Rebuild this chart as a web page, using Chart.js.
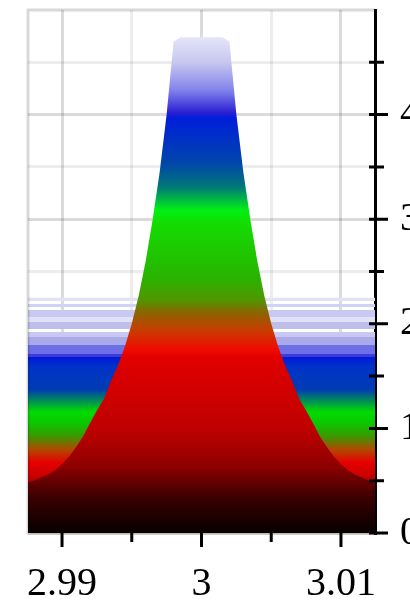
<!DOCTYPE html>
<html>
<head>
<meta charset="utf-8">
<script src="https://cdn.jsdelivr.net/npm/chart.js@4"></script>
<style>
  html, body { margin: 0; padding: 0; background: #fff; }
  #wrap { width: 410px; height: 600px; position: relative; }
</style>
</head>
<body>
<div id="wrap"><canvas id="chart"></canvas></div>
<script>
// x positions of the samples
const xValues = [
  2.9875, 2.988, 2.9885, 2.989, 2.9895, 2.990, 2.9905, 2.991, 2.9915, 2.992,
  2.9925, 2.993, 2.9935, 2.994, 2.9945, 2.995, 2.9955, 2.996, 2.9965, 2.997,
  2.9975, 2.998, 2.9985, 2.999, 2.9995, 3.000, 3.0005, 3.001, 3.0015, 3.002,
  3.0025, 3.003, 3.0035, 3.004, 3.0045, 3.005, 3.0055, 3.006, 3.0065, 3.007,
  3.0075, 3.008, 3.0085, 3.009, 3.0095, 3.010, 3.0105, 3.011, 3.0115, 3.012,
  3.0125
];

// peak
const peakValues = [
  0.48, 0.50, 0.53, 0.56, 0.60, 0.66, 0.73, 0.82, 0.92, 1.05,
  1.17, 1.28, 1.45, 1.60, 1.78, 2.00, 2.27, 2.60, 3.00, 3.45,
  4.00, 4.70, 4.74, 4.74, 4.74, 4.74, 4.74, 4.74, 4.74, 4.70,
  4.00, 3.45, 3.00, 2.60, 2.27, 2.00, 1.78, 1.60, 1.45, 1.28,
  1.17, 1.05, 0.92, 0.82, 0.73, 0.66, 0.60, 0.56, 0.53, 0.50,
  0.48
];

// flat background band
const baseValues = xValues.map(() => 2.25);

const xTicks = [2.99, 2.995, 3, 3.005, 3.01];
const xLabels = [2.99, 3, 3.01];
const yTicks = [0, 0.5, 1, 1.5, 2, 2.5, 3, 3.5, 4, 4.5];
const yLabels = [0, 1, 2, 3, 4];

// colour stops [fraction of height, colour]
const peakStops = [
  [0, 'rgb(10,0,0)'], [0.012, 'rgb(15,0,0)'], [0.073, 'rgb(60,0,0)'],
  [0.133, 'rgb(140,0,0)'], [0.208, 'rgb(190,0,0)'], [0.355, 'rgb(225,0,0)'],
  [0.369, 'rgb(240,10,0)'], [0.409, 'rgb(200,60,0)'], [0.444, 'rgb(140,100,0)'],
  [0.47, 'rgb(80,150,0)'], [0.516, 'rgb(40,180,0)'], [0.625, 'rgb(20,220,0)'],
  [0.651, 'rgb(0,240,20)'], [0.698, 'rgb(0,120,120)'], [0.746, 'rgb(0,70,170)'],
  [0.837, 'rgb(0,30,220)'], [0.847, 'rgb(40,30,210)'], [0.893, 'rgb(130,130,235)'],
  [0.95, 'rgb(200,200,240)'], [1, 'rgb(228,228,250)']
];

const clear = 'rgba(255,255,255,0)';
const baseStops = [
  [0, 'rgb(10,0,0)'], [0.04, 'rgb(20,0,0)'], [0.18, 'rgb(120,0,0)'],
  [0.24, 'rgb(200,0,0)'], [0.30, 'rgb(230,0,0)'], [0.353, 'rgb(180,70,0)'],
  [0.41, 'rgb(60,150,0)'], [0.468, 'rgb(10,200,0)'], [0.515, 'rgb(0,220,0)'],
  [0.574, 'rgb(0,120,110)'], [0.609, 'rgb(0,60,180)'], [0.706, 'rgb(0,50,200)'],
  [0.749, 'rgb(0,25,215)'],
  [0.749, 'rgb(60,60,220)'], [0.762, 'rgb(60,60,220)'],
  [0.762, 'rgb(110,110,230)'], [0.80, 'rgb(110,110,230)'],
  [0.80, 'rgb(170,170,235)'], [0.834, 'rgb(170,170,235)'],
  [0.834, 'rgb(200,200,240)'], [0.855, 'rgb(200,200,240)'],
  [0.855, clear], [0.868, clear],
  [0.868, 'rgb(190,190,235)'], [0.898, 'rgb(190,190,235)'],
  [0.898, 'rgb(225,225,248)'], [0.919, 'rgb(225,225,248)'],
  [0.919, 'rgb(200,200,240)'], [0.949, 'rgb(200,200,240)'],
  [0.949, clear], [0.962, clear],
  [0.962, 'rgb(210,210,245)'], [0.974, 'rgb(210,210,245)'],
  [0.974, clear], [0.987, clear],
  [0.987, 'rgb(225,225,250)'], [1, 'rgb(225,225,250)']
];

function gradientFill(stops) {
  return (context) => {
    const chart = context.chart;
    if (!chart.chartArea) return null;
    const y = chart.scales.y;
    const top = Math.max(...context.dataset.data.map(p => p.y));
    const g = chart.ctx.createLinearGradient(0, y.getPixelForValue(0), 0, y.getPixelForValue(top));
    stops.forEach(s => g.addColorStop(s[0], s[1]));
    return g;
  };
}

const serif = { family: "'Liberation Serif', 'DejaVu Serif', serif", size: 40 };

const tickMarks = {
  id: 'tickMarks',
  afterDraw(chart) {
    const ctx = chart.ctx;
    const area = chart.chartArea;
    const x = chart.scales.x;
    const y = chart.scales.y;
    ctx.save();
    // light frame
    ctx.strokeStyle = 'rgba(0,0,0,0.15)';
    ctx.lineWidth = 3;
    ctx.beginPath();
    ctx.moveTo(area.right, area.top);
    ctx.lineTo(area.left, area.top);
    ctx.lineTo(area.left, area.bottom);
    ctx.lineTo(area.right, area.bottom);
    ctx.stroke();
    // tick marks
    ctx.strokeStyle = '#000';
    ctx.lineWidth = 3;
    ctx.beginPath();
    xTicks.forEach(v => {
      const px = x.getPixelForValue(v);
      const len = xLabels.includes(v) ? 14 : 9;
      ctx.moveTo(px, area.bottom);
      ctx.lineTo(px, area.bottom + len);
    });
    yTicks.forEach(v => {
      const py = y.getPixelForValue(v);
      const len = yLabels.includes(v) ? 13 : 9;
      ctx.moveTo(area.right - 6, py);
      ctx.lineTo(area.right + len, py);
    });
    ctx.stroke();
    ctx.restore();
  }
};

new Chart(document.getElementById('chart').getContext('2d'), {
  type: 'line',
  data: {
    datasets: [{
      label: 'peak',
      data: xValues.map((v, i) => ({ x: v, y: peakValues[i] })),
      fill: 'origin',
      backgroundColor: gradientFill(peakStops),
      borderWidth: 0,
      pointRadius: 0,
      tension: 0,
      order: 0
    }, {
      label: 'base',
      data: xValues.map((v, i) => ({ x: v, y: baseValues[i] })),
      fill: 'origin',
      backgroundColor: gradientFill(baseStops),
      borderWidth: 0,
      pointRadius: 0,
      tension: 0,
      order: 1
    }]
  },
  options: {
    responsive: true,
    maintainAspectRatio: false,
    animation: false,
    layout: { padding: { left: 28, top: 10, right: 0, bottom: 0 } },
    plugins: {
      legend: { display: false },
      tooltip: { enabled: false }
    },
    scales: {
      x: {
        type: 'linear',
        min: 2.98756,
        max: 3.01244,
        z: 1,
        afterBuildTicks: (scale) => { scale.ticks = xTicks.map(v => ({ value: v })); },
        afterFit: (scale) => {
          scale.height = 67;
          scale.paddingLeft = 0;
          scale.paddingRight = 0;
        },
        ticks: {
          autoSkip: false,
          maxRotation: 0,
          padding: 27,
          color: '#000',
          font: serif,
          callback: (v) => xLabels.includes(v) ? String(v) : ''
        },
        grid: {
          drawTicks: false,
          lineWidth: 3,
          color: (c) => xLabels.includes(c.tick && c.tick.value) ? 'rgba(0,0,0,0.14)' : 'rgba(0,0,0,0.07)'
        },
        border: { display: false }
      },
      y: {
        position: 'right',
        min: 0,
        max: 5,
        z: 1,
        afterBuildTicks: (scale) => { scale.ticks = yTicks.map(v => ({ value: v })); },
        afterFit: (scale) => {
          scale.width = 35;
          scale.paddingTop = 0;
          scale.paddingBottom = 0;
        },
        ticks: {
          autoSkip: false,
          padding: 25,
          color: '#000',
          font: serif,
          callback: (v) => yLabels.includes(v) ? String(v) : ''
        },
        grid: {
          drawTicks: false,
          lineWidth: 3,
          color: (c) => yLabels.includes(c.tick && c.tick.value) ? 'rgba(0,0,0,0.14)' : 'rgba(0,0,0,0.07)'
        },
        border: { display: true, color: '#000', width: 3 }
      }
    }
  },
  plugins: [tickMarks]
});
</script>
</body>
</html>
